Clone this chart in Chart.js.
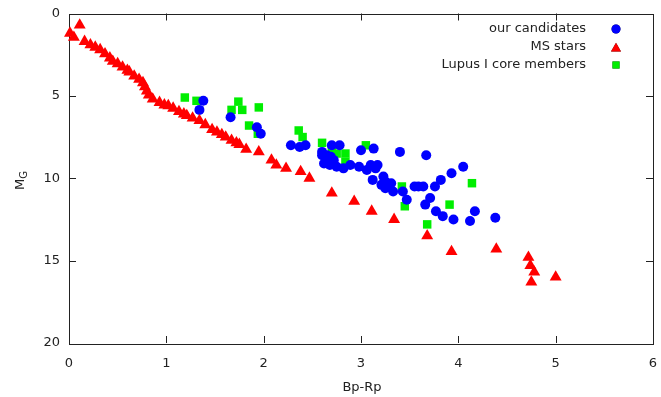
<!DOCTYPE html>
<html>
<head>
<meta charset="utf-8">
<script src="https://cdn.jsdelivr.net/npm/chart.js@4.4.1/dist/chart.umd.min.js"></script>
<style>
  html, body { margin: 0; padding: 0; background: #ffffff; }
  #cmd { display: block; }
</style>
</head>
<body>
<canvas id="cmd" width="661" height="397"></canvas>
<script>
// colour index Bp-Rp vs absolute magnitude M_G
const candBp = [1.38, 1.34, 1.66, 1.93, 1.97, 2.28, 2.37, 2.43, 2.60, 2.60, 2.62, 2.64, 2.65, 2.70, 2.78, 2.69, 2.66, 2.72,
  2.68, 2.75, 2.82, 2.89, 2.98, 3.00, 3.13, 3.06, 3.10, 3.17, 3.15, 3.12, 3.23, 3.25, 3.31, 3.21, 3.25, 3.33,
  3.40, 3.47, 3.43, 3.55, 3.59, 3.64, 3.67, 3.66, 3.71, 3.76, 3.82, 3.77, 3.84, 3.93, 3.95, 4.05, 4.12, 4.17, 4.38];
const candMg = [5.3, 5.85, 6.3, 6.9, 7.3, 8.0, 8.1, 8.0, 8.4, 8.6, 9.1, 9.0, 8.6, 8.0, 8.0, 8.7, 8.8, 8.9,
  9.2, 9.3, 9.4, 9.2, 9.3, 8.3, 8.2, 9.5, 9.2, 9.2, 9.4, 10.1, 9.9, 10.2, 10.3, 10.4, 10.6, 10.8,
  8.4, 11.3, 10.8, 10.5, 10.5, 10.5, 8.6, 11.6, 11.2, 10.5, 10.1, 12.0, 12.3, 9.7, 12.5, 9.3, 12.6, 12.0, 12.4];

const msBp = [0.01, 0.11, 0.05, 0.16, 0.22, 0.27, 0.32, 0.37, 0.42, 0.45, 0.50, 0.55, 0.60, 0.62, 0.67, 0.72, 0.76,
  0.78, 0.80, 0.82, 0.86, 0.93, 0.98, 1.02, 1.07, 1.13, 1.18, 1.21, 1.27, 1.34, 1.40, 1.47, 1.52, 1.57, 1.61,
  1.67, 1.72, 1.75, 1.82, 1.95, 2.08, 2.13, 2.23, 2.38, 2.47, 2.70, 2.93, 3.11, 3.34, 3.68, 3.93, 4.39, 4.72,
  4.74, 4.78, 4.75, 5.00];
const msMg = [1.2, 0.7, 1.45, 1.7, 1.9, 2.05, 2.2, 2.45, 2.7, 2.9, 3.05, 3.25, 3.45, 3.55, 3.8, 4.0, 4.2,
  4.45, 4.7, 4.95, 5.2, 5.4, 5.55, 5.6, 5.75, 5.95, 6.1, 6.2, 6.35, 6.5, 6.75, 7.05, 7.2, 7.35, 7.5,
  7.7, 7.85, 7.95, 8.25, 8.4, 8.9, 9.2, 9.4, 9.6, 10.0, 10.9, 11.4, 12.0, 12.5, 13.5, 14.45, 14.3, 14.8,
  15.3, 15.7, 16.3, 16.0];

const lupusBp = [1.19, 1.31, 1.74, 1.67, 1.78, 1.95, 1.85, 1.94, 2.36, 2.40, 2.60, 2.70, 2.75, 2.84, 2.84, 3.05,
  3.42, 3.45, 3.68, 3.91, 4.14];
const lupusMg = [5.1, 5.3, 5.35, 5.85, 5.85, 5.7, 6.8, 7.3, 7.1, 7.5, 7.85, 8.2, 8.5, 8.5, 9.0, 8.0,
  10.5, 11.7, 12.8, 11.6, 10.3];

const xTicks = [0, 1, 2, 3, 4, 5, 6];
const yTicks = [0, 5, 10, 15, 20];

const pts = (xs, ys) => xs.map((x, i) => ({ x: x, y: ys[i] }));
const FONT = "DejaVu Sans";

// gnuplot-like frame with inward ticks on all four sides
const framePlugin = {
  id: "frame",
  beforeDatasetsDraw(chart) {
    const { ctx, chartArea: a, scales } = chart;
    ctx.save();
    ctx.strokeStyle = "#222";
    ctx.lineWidth = 1;
    ctx.strokeRect(Math.round(a.left) + 0.5, Math.round(a.top) + 0.5,
      Math.round(a.right - a.left), Math.round(a.bottom - a.top));
    ctx.beginPath();
    xTicks.slice(1, -1).forEach((v) => {
      const px = Math.round(scales.x.getPixelForValue(v)) + 0.5;
      ctx.moveTo(px, a.bottom); ctx.lineTo(px, a.bottom - 7);
      ctx.moveTo(px, a.top); ctx.lineTo(px, a.top + 7);
    });
    yTicks.slice(1, -1).forEach((v) => {
      const py = Math.round(scales.y.getPixelForValue(v)) + 0.5;
      ctx.moveTo(a.left, py); ctx.lineTo(a.left + 7, py);
      ctx.moveTo(a.right, py); ctx.lineTo(a.right - 7, py);
    });
    ctx.stroke();
    ctx.restore();
  },
  afterDraw(chart) {
    const { ctx } = chart;
    ctx.save();
    ctx.fillStyle = "#222";
    // x title
    ctx.font = "13px '" + FONT + "'";
    ctx.textAlign = "center";
    ctx.textBaseline = "middle";
    ctx.fillText("Bp-Rp", 362, 388);
    // y title M_G, rotated
    ctx.translate(24, 190);
    ctx.rotate(-Math.PI / 2);
    ctx.textAlign = "left";
    ctx.textBaseline = "alphabetic";
    ctx.fillText("M", 0, 0);
    const mw = ctx.measureText("M").width;
    ctx.font = "10px '" + FONT + "'";
    ctx.fillText("G", mw, 3);
    ctx.restore();

    // key, top right inside the frame
    ctx.save();
    ctx.font = "13px '" + FONT + "'";
    ctx.textAlign = "right";
    ctx.textBaseline = "middle";
    const rows = [29, 47, 65];
    chart.data.datasets.forEach((ds, i) => {
      const y = rows[i];
      ctx.fillStyle = "#222";
      ctx.fillText(ds.label, 586, y);
      Chart.helpers.drawPoint(ctx, {
        pointStyle: ds.pointStyle,
        radius: ds.keyRadius,
        borderWidth: 0
      }, 616, y + (ds.pointStyle === "triangle" ? 1.5 : 0));
      ctx.fillStyle = ds.backgroundColor;
      ctx.fill();
    });
    ctx.restore();
  }
};

new Chart(document.getElementById("cmd"), {
  type: "scatter",
  data: {
    datasets: [
      { label: "our candidates", data: pts(candBp, candMg), pointStyle: "circle", pointRadius: 5,
        keyRadius: 4.5, backgroundColor: "#0000ff", borderColor: "#0000ff", borderWidth: 0, order: 2, clip: false },
      { label: "MS stars", data: pts(msBp, msMg), pointStyle: "triangle", pointRadius: 6.9,
        keyRadius: 5.8, backgroundColor: "#ff0000", borderColor: "#ff0000", borderWidth: 0, order: 1, clip: false },
      { label: "Lupus I core members", data: pts(lupusBp, lupusMg), pointStyle: "rect", pointRadius: 6,
        keyRadius: 5, backgroundColor: "#00ee00", borderColor: "#00ee00", borderWidth: 0, order: 3, clip: false }
    ]
  },
  options: {
    responsive: false,
    animation: false,
    devicePixelRatio: 1,
    layout: { padding: { top: 13.5, right: 8, left: 0, bottom: 0 } },
    plugins: { legend: { display: false }, tooltip: { enabled: false } },
    scales: {
      x: {
        type: "linear", min: 0, max: 6,
        afterFit: (s) => { s.height = 54; s.paddingLeft = 0; s.paddingRight = 0; },
        afterBuildTicks: (s) => { s.ticks = xTicks.map((v) => ({ value: v })); },
        grid: { display: false, drawTicks: false },
        border: { display: false },
        ticks: { padding: 13, color: "#222", font: { family: FONT, size: 13 } }
      },
      y: {
        type: "linear", min: 0, max: 20, reverse: true,
        afterFit: (s) => { s.width = 69; s.paddingTop = 0; s.paddingBottom = 0; },
        afterBuildTicks: (s) => { s.ticks = yTicks.map((v) => ({ value: v })); },
        grid: { display: false, drawTicks: false },
        border: { display: false },
        ticks: { padding: 9, color: "#222", font: { family: FONT, size: 13 } }
      }
    }
  },
  plugins: [framePlugin]
});
</script>
</body>
</html>
